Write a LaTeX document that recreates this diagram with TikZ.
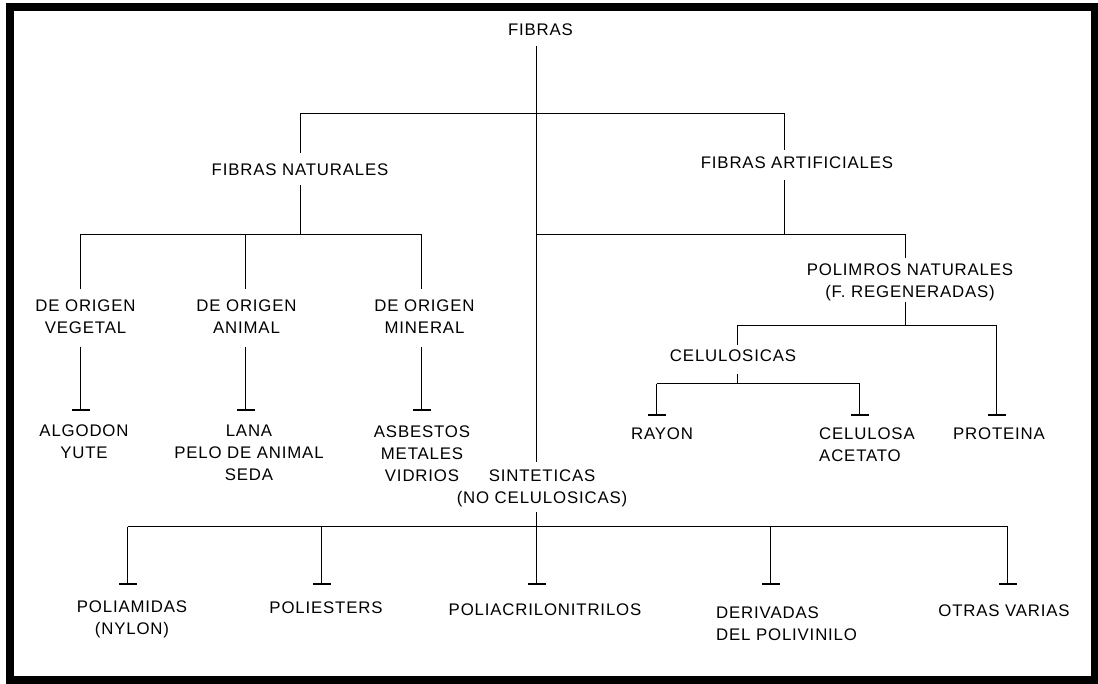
\documentclass[tikz,border=0pt]{standalone}
\usepackage{fontspec}
\newfontfamily\labfont[LetterSpace=5]{Liberation Sans}
\usetikzlibrary{arrows.meta}
\begin{document}
\begin{tikzpicture}[x=1pt,y=-1pt,
  lab/.style={font=\labfont\fontsize{16.8pt}{22pt}\selectfont, inner sep=0pt, align=center, anchor=north},
  labl/.style={lab, align=left, anchor=north west},
  wire/.style={line width=1.4pt, line join=miter},
  leaf/.style={wire, -{Bar[width=18pt]}}]
\useasboundingbox (0,0) rectangle (1098,683);
% outer frame
\draw[line width=8pt] (10,7) rectangle (1095,680);

% labels
\node[lab] (fibras) at (540.5,24) {FIBRAS};
\node[lab] (fnat) at (300,164) {FIBRAS NATURALES};
\node[lab] (fart) at (797,157) {FIBRAS ARTIFICIALES};
\node[lab] (veg) at (85.5,300) {DE ORIGEN\\VEGETAL};
\node[lab] (ani) at (246.5,300) {DE ORIGEN\\ANIMAL};
\node[lab] (min) at (424.5,300) {DE ORIGEN\\MINERAL};
\node[lab] (alg) at (84,424.7) {ALGODON\\YUTE};
\node[lab] (lana) at (249,425) {LANA\\PELO DE ANIMAL\\SEDA};
\node[lab] (asb) at (422,425.7) {ASBESTOS\\METALES\\VIDRIOS};
\node[lab] (sint) at (542,470) {SINTETICAS\\(NO CELULOSICAS)};
\node[lab] (polnat) at (910,264) {POLIMROS NATURALES\\(F. REGENERADAS)};
\node[lab] (celu) at (733,350) {CELULOSICAS};
\node[lab] (rayon) at (662,428) {RAYON};
\node[labl] (celac) at (819,428) {CELULOSA\\ACETATO};
\node[lab] (prot) at (999,428) {PROTEINA};
\node[lab] (poliam) at (132,600.7) {POLIAMIDAS\\(NYLON)};
\node[lab] (poliest) at (326,602) {POLIESTERS};
\node[lab] (poliac) at (545,604) {POLIACRILONITRILOS};
\node[labl] (deriv) at (716,606.7) {DERIVADAS\\DEL POLIVINILO};
\node[lab] (otras) at (1004,604.7) {OTRAS VARIAS};

% junction and end points
\coordinate (fibras-out) at (536.5,46);
\coordinate (sint-in) at (536.5,461.5);
\coordinate (top-bus) at (536.5,113.5);
\coordinate (nat-in) at (300.5,153);
\coordinate (art-in) at (784.5,150);
\coordinate (nat-out) at (300.5,185);
\coordinate (art-out) at (784.5,180);
\coordinate (nat-bus) at (300.5,234.5);
\coordinate (art-bus) at (784.5,234.5);
\coordinate (veg-in) at (80.5,289);
\coordinate (ani-in) at (245.5,289);
\coordinate (min-in) at (421.5,289);
\coordinate (veg-out) at (80.5,346.5);
\coordinate (ani-out) at (245.5,346.5);
\coordinate (min-out) at (421.5,346.5);
\coordinate (alg-in) at (80.5,410.5);
\coordinate (lana-in) at (245.5,410.5);
\coordinate (asb-in) at (421.5,410.5);
\coordinate (polnat-in) at (905.5,258);
\coordinate (polnat-out) at (905.5,301.5);
\coordinate (reg-bus) at (905.5,325.5);
\coordinate (celu-in) at (737.5,345);
\coordinate (celu-out) at (737.5,374);
\coordinate (celu-bus) at (737.5,383.5);
\coordinate (rayon-in) at (656.5,415.5);
\coordinate (celac-in) at (859.5,415.5);
\coordinate (prot-in) at (996.5,415.5);
\coordinate (sint-out) at (536.5,512);
\coordinate (sint-bus) at (536.5,526.5);
\coordinate (poliam-in) at (127.5,584.5);
\coordinate (poliest-in) at (321.5,584.5);
\coordinate (poliac-in) at (536.5,584.5);
\coordinate (deriv-in) at (770.5,584.5);
\coordinate (otras-in) at (1007.5,584.5);

% FIBRAS
\draw[wire] (fibras-out) -- (sint-in);
\draw[wire] (nat-in) |- (top-bus) -| (art-in);

% natural fibres
\draw[wire] (nat-out) -- (nat-bus);
\draw[wire] (veg-in) |- (nat-bus) -| (min-in);
\draw[wire] (ani-in) -- (ani-in |- nat-bus);
\draw[leaf] (veg-out) -- (alg-in);
\draw[leaf] (ani-out) -- (lana-in);
\draw[leaf] (min-out) -- (asb-in);

% artificial fibres
\draw[wire] (art-out) -- (art-bus);
\draw[wire] (sint-in |- art-bus) -| (polnat-in);
\draw[wire] (polnat-out) -- (reg-bus);
\draw[wire] (celu-in) |- (reg-bus) -| (prot-in |- celu-bus);
\draw[leaf] (prot-in |- celu-bus) -- (prot-in);
\draw[wire] (celu-out) -- (celu-bus);
\draw[wire] (rayon-in |- celu-bus) -- (celac-in |- celu-bus);
\draw[leaf] (rayon-in |- celu-bus) -- (rayon-in);
\draw[leaf] (celac-in |- celu-bus) -- (celac-in);

% synthetic fibres
\draw[leaf] (sint-out) -- (poliac-in);
\draw[wire] (poliam-in |- sint-bus) -- (otras-in |- sint-bus);
\draw[leaf] (poliam-in |- sint-bus) -- (poliam-in);
\draw[leaf] (poliest-in |- sint-bus) -- (poliest-in);
\draw[leaf] (deriv-in |- sint-bus) -- (deriv-in);
\draw[leaf] (otras-in |- sint-bus) -- (otras-in);
\end{tikzpicture}
\end{document}
